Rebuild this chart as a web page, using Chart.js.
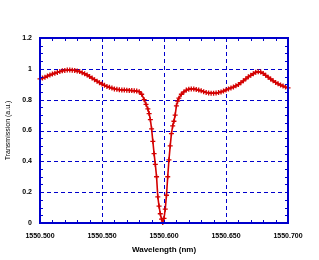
<!DOCTYPE html>
<html><head><meta charset="utf-8">
<script src="https://cdn.jsdelivr.net/npm/chart.js@4/dist/chart.umd.min.js"></script>
<style>html,body{margin:0;padding:0;background:#fff;}#c{display:block;}</style>
</head><body>
<canvas id="c" width="319" height="260"></canvas>
<script>
const wavelengths = [
 1550.500,1550.502,1550.504,1550.506,1550.508,1550.510,1550.512,1550.514,1550.516,1550.518,
 1550.520,1550.522,1550.524,1550.526,1550.528,1550.530,1550.532,1550.534,1550.536,1550.538,
 1550.540,1550.542,1550.544,1550.546,1550.548,1550.550,1550.552,1550.554,1550.556,1550.558,
 1550.560,1550.562,1550.564,1550.566,1550.568,1550.570,1550.572,1550.574,1550.576,1550.578,
 1550.580,1550.582,1550.584,1550.5855,1550.587,1550.588,1550.589,1550.590,1550.591,1550.592,
 1550.593,1550.594,1550.595,1550.596,1550.597,1550.598,1550.599,1550.600,1550.601,1550.602,
 1550.603,1550.604,1550.605,1550.606,1550.607,1550.608,1550.609,1550.610,1550.611,1550.612,
 1550.614,1550.616,1550.618,1550.620,1550.622,1550.624,1550.626,1550.628,1550.630,1550.632,
 1550.634,1550.636,1550.638,1550.640,1550.642,1550.644,1550.646,1550.648,1550.650,1550.652,
 1550.654,1550.656,1550.658,1550.660,1550.662,1550.664,1550.666,1550.668,1550.670,1550.672,
 1550.674,1550.676,1550.678,1550.680,1550.682,1550.684,1550.686,1550.688,1550.690,1550.692,
 1550.694,1550.696,1550.698,1550.700
];
const transmission = [
 0.935,0.940,0.945,0.953,0.960,0.966,0.972,0.977,0.982,0.987,
 0.990,0.992,0.992,0.991,0.990,0.986,0.982,0.975,0.968,0.960,
 0.950,0.940,0.930,0.920,0.910,0.901,0.893,0.886,0.880,0.875,
 0.870,0.867,0.865,0.863,0.862,0.861,0.860,0.859,0.858,0.856,
 0.852,0.835,0.800,0.770,0.740,0.710,0.670,0.610,0.530,0.450,
 0.380,0.300,0.170,0.110,0.060,0.025,0.003,0.030,0.090,0.180,
 0.300,0.410,0.500,0.580,0.630,0.660,0.700,0.760,0.790,0.810,
 0.835,0.850,0.862,0.868,0.870,0.870,0.866,0.862,0.858,0.852,
 0.847,0.844,0.842,0.842,0.843,0.846,0.850,0.856,0.863,0.870,
 0.876,0.882,0.890,0.898,0.910,0.922,0.935,0.948,0.958,0.968,
 0.978,0.981,0.979,0.970,0.958,0.946,0.934,0.922,0.912,0.903,
 0.895,0.888,0.882,0.877
];
const xTickLabels = ["1550.500","1550.550","1550.600","1550.650","1550.700"];
const yTickLabels = ["0","0.2","0.4","0.6","0.8","1","1.2"];
const xTitle = "Wavelength (nm)";
const yTitle = "Transmission (a.u.)";

const BLUE = '#0000cc';
const RED = '#d40000';
const tickFont = {family:'Liberation Sans', size:7, weight:'bold'};

const framePlugin = {
  id:'frame',
  beforeDatasetsDraw(chart){
    const {ctx, chartArea:a, scales:{x, y}} = chart;
    ctx.save();
    ctx.strokeStyle = BLUE;
    ctx.lineWidth = 1;
    ctx.setLineDash([4,3]);
    ctx.beginPath();
    x.ticks.forEach(t=>{
      const px = Math.round(x.getPixelForValue(t.value))+0.5;
      ctx.moveTo(px, a.top); ctx.lineTo(px, a.bottom);
    });
    y.ticks.forEach(t=>{
      const py = Math.round(y.getPixelForValue(t.value))+0.5;
      ctx.moveTo(a.left, py); ctx.lineTo(a.right, py);
    });
    ctx.stroke();
    ctx.restore();
  },
  afterDraw(chart){
    const {ctx, chartArea:a, scales:{x, y}} = chart;
    ctx.save();
    ctx.strokeStyle = BLUE;
    ctx.lineWidth = 1;
    ctx.beginPath();
    for (let i=0;i<=20;i++){
      const v = 1550.5 + i*0.01;
      const px = Math.round(x.getPixelForValue(v))+0.5;
      ctx.moveTo(px, a.bottom); ctx.lineTo(px, a.bottom-3);
      ctx.moveTo(px, a.top); ctx.lineTo(px, a.top+3);
    }
    for (let i=0;i<=24;i++){
      const v = i*0.05;
      const py = Math.round(y.getPixelForValue(v))+0.5;
      ctx.moveTo(a.left, py); ctx.lineTo(a.left+3, py);
      ctx.moveTo(a.right, py); ctx.lineTo(a.right-3, py);
    }
    ctx.stroke();
    ctx.lineWidth = 2;
    ctx.strokeRect(a.left, a.top, a.right-a.left, a.bottom-a.top);
    ctx.restore();
  }
};

new Chart(document.getElementById('c'), {
  type:'scatter',
  data:{datasets:[{
    data: wavelengths.map((w,i)=>({x:w, y:transmission[i]})),
    showLine:true,
    borderColor:RED, backgroundColor:RED,
    borderWidth:1.6,
    pointStyle:'cross', pointRadius:2.5, pointBorderWidth:1.3,
    pointBorderColor:RED,
    clip:false
  }]},
  options:{
    responsive:false, animation:false,
    plugins:{legend:{display:false}, tooltip:{enabled:false}},
    layout:{padding:{top:38, right:31, left:0, bottom:0}},
    scales:{
      x:{
        type:'linear', min:1550.5, max:1550.7,
        afterBuildTicks(s){ s.ticks = xTickLabels.map(t=>({value:parseFloat(t)})); },
        afterFit(s){ s.height = 37; },
        ticks:{ color:'#000', font:tickFont, padding:1, maxRotation:0, autoSkip:false,
          callback:(v,i)=>xTickLabels[i] },
        grid:{ display:false },
        border:{ display:false },
        title:{ display:true, text:xTitle, color:'#000', font:{family:'Liberation Sans', size:8, weight:'bold'}, padding:{top:0,bottom:5} }
      },
      y:{
        min:0, max:1.2,
        afterBuildTicks(s){ s.ticks = yTickLabels.map(t=>({value:parseFloat(t)})); },
        afterFit(s){ s.width = 40; },
        ticks:{ color:'#000', font:tickFont, padding:0, autoSkip:false,
          callback:(v,i)=>yTickLabels[i] },
        grid:{ display:false },
        border:{ display:false },
        title:{ display:true, text:yTitle, color:'#000', font:{family:'Liberation Sans', size:7}, padding:{top:4,bottom:0} }
      }
    }
  },
  plugins:[framePlugin]
});
</script>
</body></html>
